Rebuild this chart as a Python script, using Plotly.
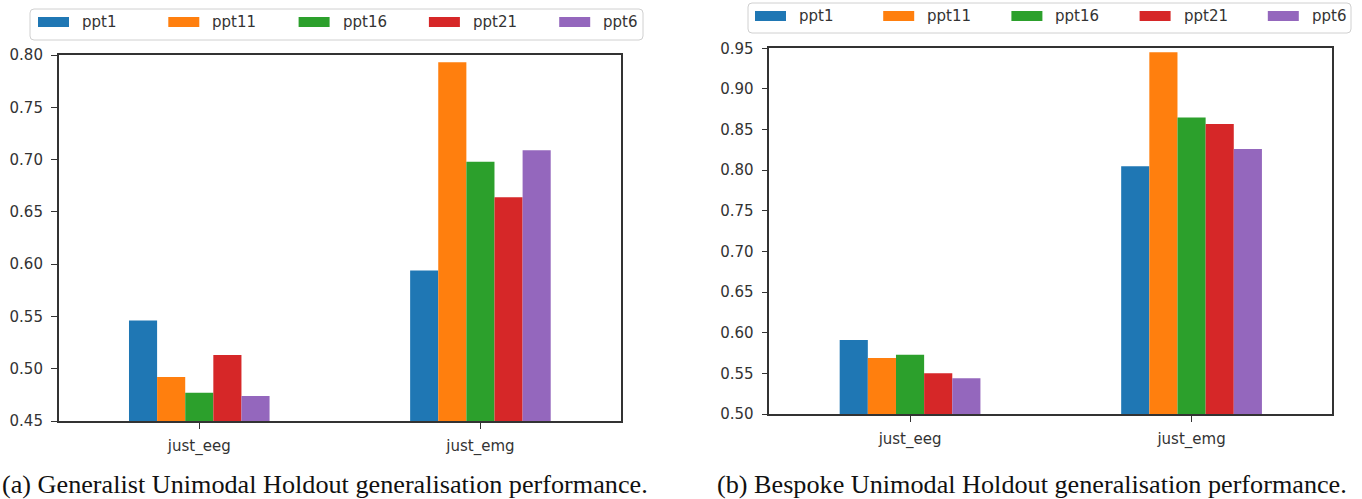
import plotly.graph_objects as go

W, H = 1362, 499

categories = ["just_eeg", "just_emg"]
series_names = ["ppt1", "ppt11", "ppt16", "ppt21", "ppt6"]
colors = ["#1f77b4", "#ff7f0e", "#2ca02c", "#d62728", "#9467bd"]

# (a) Generalist
gen_ppt1 = [0.546, 0.594]
gen_ppt11 = [0.492, 0.793]
gen_ppt16 = [0.477, 0.698]
gen_ppt21 = [0.513, 0.664]
gen_ppt6 = [0.474, 0.709]

# (b) Bespoke
besp_ppt1 = [0.591, 0.805]
besp_ppt11 = [0.569, 0.945]
besp_ppt16 = [0.573, 0.865]
besp_ppt21 = [0.550, 0.857]
besp_ppt6 = [0.544, 0.826]

gen_ticks = [0.45, 0.50, 0.55, 0.60, 0.65, 0.70, 0.75, 0.80]
besp_ticks = [0.50, 0.55, 0.60, 0.65, 0.70, 0.75, 0.80, 0.85, 0.90, 0.95]

captions = ["(a) Generalist Unimodal Holdout generalisation performance.",
            "(b) Bespoke Unimodal Holdout generalisation performance."]

gen_series = [gen_ppt1, gen_ppt11, gen_ppt16, gen_ppt21, gen_ppt6]
besp_series = [besp_ppt1, besp_ppt11, besp_ppt16, besp_ppt21, besp_ppt6]


def px(x):
    return x / W


def py(y):
    return 1 - y / H


fig = go.Figure()
for name, col, vals in zip(series_names, colors, gen_series):
    fig.add_trace(go.Bar(x=categories, y=vals, name=name, marker_color=col,
                         marker_line_width=0, showlegend=False,
                         xaxis="x", yaxis="y"))
for name, col, vals in zip(series_names, colors, besp_series):
    fig.add_trace(go.Bar(x=categories, y=vals, name=name, marker_color=col,
                         marker_line_width=0, showlegend=False,
                         xaxis="x2", yaxis="y2"))

tick_font = dict(family="DejaVu Sans", size=15, color="#333333")
axis_common = dict(showline=True, mirror=True, linecolor="#333333", linewidth=1.5,
                   ticks="outside", ticklen=6, tickwidth=1.2, tickcolor="#333333",
                   showgrid=False, zeroline=False, tickfont=tick_font, automargin=False)

fig.update_layout(
    width=W, height=H,
    margin=dict(l=0, r=0, t=0, b=0, pad=0),
    paper_bgcolor="white", plot_bgcolor="white",
    showlegend=False,
    barmode="group", bargap=0.5, bargroupgap=0,
    xaxis=dict(domain=[px(58.7), px(621)], anchor="y", range=[-0.5, 1.5],
               ticklabelstandoff=4, **axis_common),
    yaxis=dict(domain=[py(421), py(55)], anchor="x", range=[0.45, 0.80],
               tickvals=gen_ticks, tickformat=".2f", ticklabelstandoff=5, **axis_common),
    xaxis2=dict(domain=[px(769.3), px(1332.3)], anchor="y2", range=[-0.5, 1.5],
                ticklabelstandoff=4, **axis_common),
    yaxis2=dict(domain=[py(414), py(48.3)], anchor="x2", range=[0.50, 0.95],
                tickvals=besp_ticks, tickformat=".2f", ticklabelstandoff=5, **axis_common),
)

shapes = []
annotations = []


def rounded_rect(x0, y0, x1, y1, r=4):
    return (f"M {px(x0 + r)},{py(y0)} L {px(x1 - r)},{py(y0)} "
            f"Q {px(x1)},{py(y0)} {px(x1)},{py(y0 + r)} "
            f"L {px(x1)},{py(y1 - r)} Q {px(x1)},{py(y1)} {px(x1 - r)},{py(y1)} "
            f"L {px(x0 + r)},{py(y1)} Q {px(x0)},{py(y1)} {px(x0)},{py(y1 - r)} "
            f"L {px(x0)},{py(y0 + r)} Q {px(x0)},{py(y0)} {px(x0 + r)},{py(y0)} Z")


legend_specs = [
    dict(box=(30, 9, 643, 40), sw0=38, tx0=80, step=130.3, yc=22),
    dict(box=(748, 3, 1351, 33), sw0=755, tx0=797, step=128.2, yc=16),
]
for spec in legend_specs:
    bx0, by0, bx1, by1 = spec["box"]
    shapes.append(dict(type="path", path=rounded_rect(bx0, by0, bx1, by1),
                       xref="paper", yref="paper", line=dict(color="#d0d0d0", width=1),
                       fillcolor="white", layer="above"))
    for i, (name, col) in enumerate(zip(series_names, colors)):
        sx = spec["sw0"] + i * spec["step"]
        shapes.append(dict(type="rect", xref="paper", yref="paper",
                           x0=px(sx), x1=px(sx + 31), y0=py(spec["yc"] + 5), y1=py(spec["yc"] - 5),
                           fillcolor=col, line=dict(width=0), layer="above"))
        annotations.append(dict(text=name, xref="paper", yref="paper",
                                x=px(spec["tx0"] + i * spec["step"]), y=py(spec["yc"]),
                                xanchor="left", yanchor="middle", showarrow=False,
                                font=dict(family="DejaVu Sans", size=15, color="#333333")))

cap_x = [0, 715]
for cx, cap in zip(cap_x, captions):
    annotations.append(dict(text=cap, xref="paper", yref="paper", x=px(cx), y=py(484),
                            xanchor="left", yanchor="middle", showarrow=False,
                            font=dict(family="Liberation Serif", size=26.2, color="#111111")))

fig.update_layout(shapes=shapes, annotations=annotations)
fig.write_html("out.html")
